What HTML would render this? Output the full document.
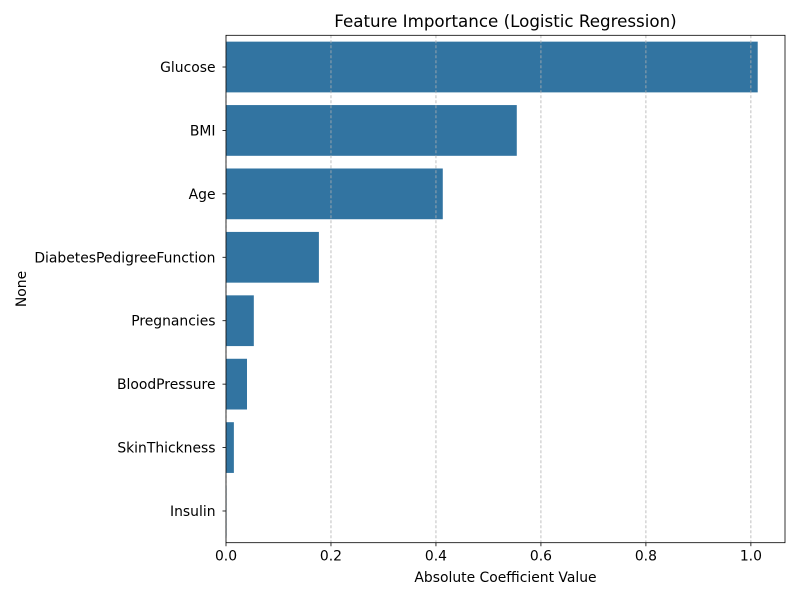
<!DOCTYPE html>
<html><head><meta charset="utf-8"><style>
body{margin:0;background:#fff;}
svg{display:block;font-family:"DejaVu Sans","Liberation Sans",sans-serif;}
</style></head><body>
<svg id="chart" width="800" height="600"></svg>
<script>
const categories=["Glucose","BMI","Age","DiabetesPedigreeFunction","Pregnancies","BloodPressure","SkinThickness","Insulin"];
const values=[1.013,0.554,0.413,0.177,0.053,0.040,0.015,0.001];
const xTicks=[0,0.2,0.4,0.6,0.8,1.0];
const xTickLabels=["0.0","0.2","0.4","0.6","0.8","1.0"];
const L=226,R=785,T=35.3,B=542.7,XMAX=1.065;
const NS="http://www.w3.org/2000/svg";
const svg=document.getElementById("chart");
function x(v){return L+(v/XMAX)*(R-L);}
const band=(B-T)/categories.length;
function yc(i){return T+band*(i+0.5);}
function mk(tag,attrs,parent){const e=document.createElementNS(NS,tag);for(const k in attrs)e.setAttribute(k,attrs[k]);(parent||svg).appendChild(e);return e;}
categories.forEach((c,i)=>{
  const r=mk("rect",{x:x(0),y:yc(i)-band*0.4,width:x(values[i])-x(0),height:band*0.8,fill:"#3274a1"});
  
  
  mk("line",{x1:L-3.5,x2:L,y1:yc(i),y2:yc(i),stroke:"#000","stroke-width":0.8});
  const lb=mk("text",{x:L-10.5,y:yc(i)+5,"text-anchor":"end","font-size":13.9,fill:"#000"});
  lb.textContent=c;
  
  
});
xTicks.forEach((v,i)=>{
  const g=mk("line",{x1:x(v),x2:x(v),y1:T,y2:B,stroke:"#b0b0b0","stroke-width":0.8,"stroke-dasharray":"3,2"});
  
  
  mk("line",{x1:x(v),x2:x(v),y1:B,y2:B+3.5,stroke:"#000","stroke-width":0.8});
  const lb=mk("text",{x:x(v),y:B+18,"text-anchor":"middle","font-size":13.9,fill:"#000"});
  lb.textContent=xTickLabels[i];
  
  
});
const fr=mk("rect",{x:L,y:T,width:R-L,height:B-T,fill:"none",stroke:"#000","stroke-width":0.8});


const ti=mk("text",{x:(L+R)/2,y:27,"text-anchor":"middle","font-size":16.7,fill:"#000"});
ti.textContent="Feature Importance (Logistic Regression)";


const xt=mk("text",{x:(L+R)/2,y:582,"text-anchor":"middle","font-size":13.9,fill:"#000"});
xt.textContent="Absolute Coefficient Value";


const yt=mk("text",{x:26,y:(T+B)/2,"text-anchor":"middle","font-size":13.9,fill:"#000",transform:"rotate(-90 26 "+((T+B)/2)+")"});
yt.textContent="None";


</script>
</body></html>
